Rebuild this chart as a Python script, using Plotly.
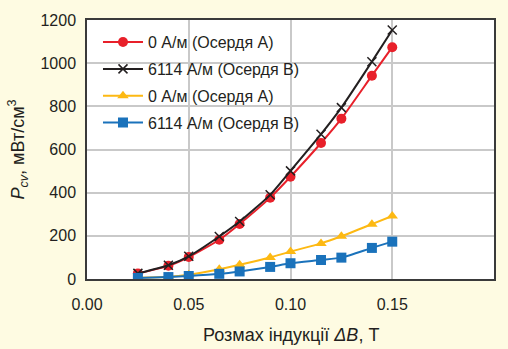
import plotly.graph_objects as go

x_vals = [0.025, 0.04, 0.05, 0.065, 0.075, 0.09, 0.10, 0.115, 0.125, 0.14, 0.15]
red_vals = [26, 61, 102, 182, 255, 377, 474, 630, 743, 942, 1074]
black_vals = [26, 64, 105, 197, 266, 390, 501, 671, 794, 1007, 1154]
yellow_vals = [6, 10, 20, 45, 66, 100, 127, 165, 198, 254, 292]
blue_vals = [5, 9, 14, 24, 35, 56, 73, 88, 99, 144, 173]

names = ["0 А/м (Осердя А)", "6114 А/м (Осердя В)", "0 А/м (Осердя А)", "6114 А/м (Осердя В)"]
x_ticks = [0.0, 0.05, 0.10, 0.15, 0.20]
y_ticks = [0, 200, 400, 600, 800, 1000, 1200]

FONT = "Liberation Sans, Arial, sans-serif"

fig = go.Figure()
specs = [
    (red_vals, "#E8202A", dict(symbol="circle", size=10)),
    (black_vals, "#231F20", dict(symbol="x-thin", size=9, line=dict(width=1.5, color="#231F20"))),
    (yellow_vals, "#FDB913", dict(symbol="triangle-up", size=10)),
    (blue_vals, "#1A72BB", dict(symbol="square", size=10)),
]
for i, (vals, col, mk) in enumerate(specs):
    fig.add_trace(go.Scatter(
        x=x_vals, y=vals, name=names[i], mode="lines+markers",
        line=dict(color=col, width=2, shape="spline", smoothing=0.6),
        marker=dict(color=col, **mk),
        legendgroup=f"g{i}",
    ))

fig.update_layout(
    width=508, height=349,
    margin=dict(l=87, r=14, t=15, b=70),
    paper_bgcolor="#FEFBE2",
    plot_bgcolor="#FFFFFF",
    font=dict(family=FONT, size=16, color="#231F20"),
    showlegend=True,
    legend=dict(
        x=0.027, y=0.98, xanchor="left", yanchor="top",
        bgcolor="rgba(0,0,0,0)", borderwidth=0,
        font=dict(family=FONT, size=16, color="#231F20"),
        tracegroupgap=3, itemwidth=40,
    ),
    xaxis=dict(
        range=[0, 0.2], tickvals=x_ticks, tickformat=".2f",
        showgrid=True, gridcolor="#C9C9C9", gridwidth=1.5,
        showline=True, linecolor="#3A3A3A", linewidth=1.5, mirror=True,
        ticks="", zeroline=False, ticklabelstandoff=10,
        tickfont=dict(family=FONT, size=16),
    ),
    yaxis=dict(
        range=[0, 1200], tickvals=y_ticks,
        showgrid=True, gridcolor="#C9C9C9", gridwidth=1.5,
        showline=True, linecolor="#3A3A3A", linewidth=1.5, mirror=True,
        ticks="", zeroline=False, ticklabelstandoff=6,
        tickfont=dict(family=FONT, size=16),
    ),
    annotations=[
        dict(text="Розмах індукції <i>ΔB</i>, Т", xref="paper", yref="paper",
             x=0.5, y=-0.2, xanchor="center", yanchor="middle", yshift=-4,
             showarrow=False, font=dict(family=FONT, size=18, color="#231F20")),
        dict(text="<i>P</i><sub><i>cv</i></sub>, мВт/см<sup>3</sup>", xref="paper", yref="paper",
             x=0, y=0.5, xanchor="center", yanchor="middle", xshift=-69,
             textangle=-90, showarrow=False,
             font=dict(family=FONT, size=18, color="#231F20")),
    ],
)

fig.write_html("out.html")
